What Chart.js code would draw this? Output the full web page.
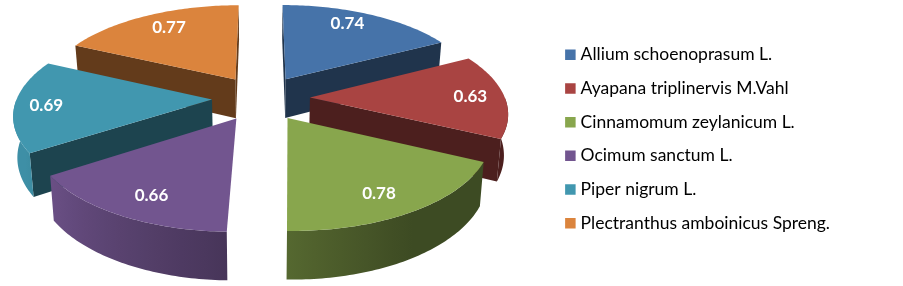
<!DOCTYPE html>
<html>
<head>
<meta charset="utf-8">
<style>
    html, body { margin: 0; padding: 0; background: #fff; }
    canvas { display: block; }
</style>
<script src="https://cdn.jsdelivr.net/npm/chart.js@4/dist/chart.umd.min.js"></script>
</head>
<body>
<canvas id="chart" width="903" height="286"></canvas>
<script>
const categories = [
    'Allium schoenoprasum L.',
    'Ayapana triplinervis M.Vahl',
    'Cinnamomum zeylanicum L.',
    'Ocimum sanctum L.',
    'Piper nigrum L.',
    'Plectranthus amboinicus Spreng.'
];
const values = [0.74, 0.63, 0.78, 0.66, 0.69, 0.77];
const colors = ['#4673a9', '#a94442', '#88a64d', '#72558f', '#4197af', '#db843d'];

// Camera for the tilted pie
const view = { cx: 261, cy: 98, radius: 195, explode: 49, squash: 0.462, persp: 0.00075, depth: 40, floor: 0.983, labelRadius: 155 };
// Back slices first, so the front ones cover them
const paintOrder = [0, 5, 1, 4, 2, 3];
// Small label corrections, in pixels
const labelShift = [[-7, -3], [6, 0], [-5, 3], [5, 2], [-9, 1], [5, 0]];

function project(x, y, down) {
    const w = 1 / (1 + view.persp * y);
    const sx = x * w * (down ? view.floor : 1);
    const sy = -view.squash * y * w + (down ? view.depth * w : 0);
    return [view.cx + sx, view.cy + sy];
}

// Angle measured clockwise from the top of the pie
function slicePoint(mid, angle, r, down) {
    const x = view.explode * Math.sin(mid) + r * Math.sin(angle);
    const y = view.explode * Math.cos(mid) + r * Math.cos(angle);
    return project(x, y, down);
}

function shade(hex, f) {
    const n = parseInt(hex.slice(1), 16);
    return `rgb(${Math.round((n >> 16) * f)},${Math.round(((n >> 8) & 255) * f)},${Math.round((n & 255) * f)})`;
}

function fillPoly(ctx, pts, fill) {
    ctx.beginPath();
    pts.forEach((p, i) => i ? ctx.lineTo(p[0], p[1]) : ctx.moveTo(p[0], p[1]));
    ctx.closePath();
    ctx.fillStyle = fill;
    ctx.fill();
}

function signedArea(pts) {
    let a = 0;
    pts.forEach((p, i) => {
        const q = pts[(i + 1) % pts.length];
        a += p[0] * q[1] - q[0] * p[1];
    });
    return a / 2;
}

function outerShade(deg) {
    const f = 0.45 + (deg - 150) / 90 * 0.5;
    return Math.min(0.95, Math.max(0.45, f));
}

function drawSlice(ctx, start, end, color) {
    const mid = (start + end) / 2;
    const apexTop = slicePoint(mid, 0, 0, false);
    const apexLow = slicePoint(mid, 0, 0, true);

    // Cut walls, only when they face the camera
    const walls = [
        [apexTop, slicePoint(mid, start, view.radius, false), slicePoint(mid, start, view.radius, true), apexLow],
        [apexLow, slicePoint(mid, end, view.radius, true), slicePoint(mid, end, view.radius, false), apexTop]
    ];
    walls.forEach((wall, i) => {
        // A wall pointing straight at the camera is seen edge on
        const edgeOn = Math.abs((i ? end : start) - Math.PI) < 0.17;
        if (signedArea(wall) < 0 && !edgeOn) fillPoly(ctx, wall, shade(color, 0.45));
    });

    // Curved wall: the part that faces the camera, shaded from right to left
    const step = Math.PI / 180;
    const from = Math.max(start, Math.PI / 2);
    const to = Math.min(end, Math.PI * 1.5);
    if (to > from) {
        const upper = [], lower = [];
        for (let a = from; a < to; a += step) {
            upper.push(slicePoint(mid, a, view.radius, false));
            lower.unshift(slicePoint(mid, a, view.radius, true));
        }
        upper.push(slicePoint(mid, to, view.radius, false));
        lower.unshift(slicePoint(mid, to, view.radius, true));
        const xs = upper.map(p => p[0]);
        const x0 = Math.min(...xs);
        const x1 = Math.max(...xs);
        const grad = ctx.createLinearGradient(x0, 0, x1, 0);
        for (let t = 0; t <= 1; t += 0.1) {
            const a = from + (to - from) * t;
            const x = slicePoint(mid, a, view.radius, false)[0];
            const stop = Math.min(1, Math.max(0, (x - x0) / (x1 - x0)));
            grad.addColorStop(stop, shade(color, outerShade(a * 180 / Math.PI)));
        }
        fillPoly(ctx, upper.concat(lower), grad);
    }

    // Top face
    const top = [apexTop];
    for (let a = start; a < end; a += step) top.push(slicePoint(mid, a, view.radius, false));
    top.push(slicePoint(mid, end, view.radius, false));
    fillPoly(ctx, top, color);
}

const pie3d = {
    id: 'pie3d',
    beforeDatasetsDraw(chart) {
        const ctx = chart.ctx;
        const arcs = chart.getDatasetMeta(0).data;
        const angles = arcs.map(arc => {
            const p = arc.getProps(['startAngle', 'endAngle'], true);
            return [p.startAngle + Math.PI / 2, p.endAngle + Math.PI / 2];
        });
        ctx.save();
        paintOrder.forEach(i => drawSlice(ctx, angles[i][0], angles[i][1], colors[i]));

        ctx.fillStyle = '#fff';
        ctx.font = 'bold 17px Lato';
        ctx.textAlign = 'center';
        ctx.textBaseline = 'middle';
        arcs.forEach((arc, i) => {
            const mid = (angles[i][0] + angles[i][1]) / 2;
            const p = slicePoint(mid, mid, view.labelRadius, false);
            ctx.fillText(values[i].toFixed(2), p[0] + labelShift[i][0], p[1] + labelShift[i][1]);
        });
        ctx.restore();
        return false;
    }
};

new Chart(document.getElementById('chart'), {
    type: 'pie',
    data: {
        labels: categories,
        datasets: [{ data: values, backgroundColor: colors, borderWidth: 0 }]
    },
    options: {
        responsive: false,
        animation: false,
        layout: { padding: { right: 63, bottom: 8 } },
        plugins: {
            tooltip: { enabled: false },
            legend: {
                position: 'right',
                labels: {
                    usePointStyle: true,
                    pointStyle: 'rect',
                    boxWidth: 3,
                    boxHeight: 10.5,
                    padding: 16.2,
                    color: '#000',
                    font: { family: 'Lato', size: 17.5 }
                }
            }
        }
    },
    plugins: [pie3d]
});
</script>
</body>
</html>
